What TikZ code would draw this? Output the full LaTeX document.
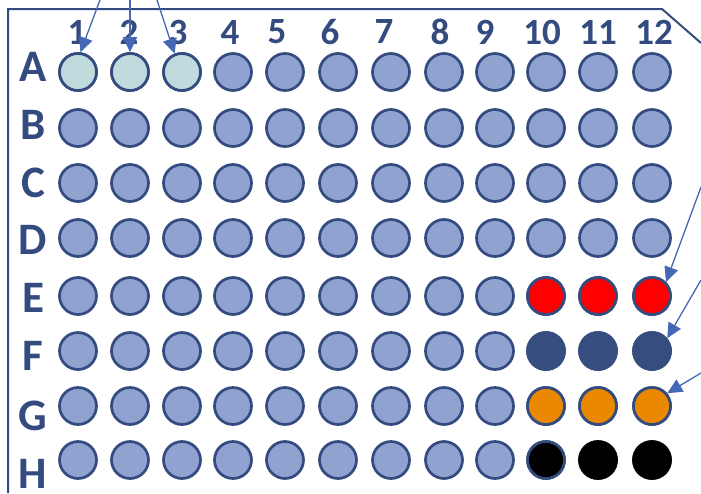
\documentclass[tikz,border=0pt]{standalone}
\usepackage{fontspec}
\setmainfont{Carlito}[BoldFont=Carlito Bold]
\usetikzlibrary{arrows.meta}
\definecolor{plateblue}{RGB}{52,75,128}
\definecolor{wellfill}{RGB}{143,162,208}
\definecolor{tealfill}{RGB}{190,218,220}
\definecolor{darkfill}{RGB}{55,77,128}
\definecolor{orangefill}{RGB}{234,137,0}
\definecolor{arrowblue}{RGB}{68,104,180}
\tikzset{
  well/.style={circle, draw=plateblue, line width=2.7pt, fill=wellfill, minimum size=37pt, inner sep=0pt},
  rowlab/.style={text=plateblue, font=\fontsize{45}{48}\selectfont\bfseries, inner sep=0pt},
  collab/.style={text=plateblue, font=\fontsize{37}{40}\selectfont\bfseries, inner sep=0pt},
  pointer/.style={draw=arrowblue, line width=1.3pt, -{Triangle[length=15pt,width=14pt]}},
  plate/.style={draw=plateblue, line width=2pt}
}
\begin{document}
\begin{tikzpicture}[x=1pt,y=-1pt]
\useasboundingbox (0,0) rectangle (701,493);
\draw[plate] (8,493) -- (8,9) -- (662,9) -- (701,43);
% column labels
\foreach \n/\x in {1/77,2/129,3/178,4/230,5/277,6/330,7/384,8/440,9/485,10/542,11/598,12/654}
  \node[collab] (col-\n) at (\x,32) {\n};
% row labels
\foreach \r/\y in {A/67,B/125,C/183,D/240,E/298,F/356,G/416,H/474}
  \node[rowlab] (row-\r) at (33,\y) {\r};
% wells
\foreach \r/\y in {A/72,B/128,C/183,D/238,E/296,F/351,G/406,H/460}
  \foreach \c/\x in {1/78,2/130,3/182,4/233,5/285,6/338,7/391,8/444,9/495,10/546,11/598,12/652}
    \node[well] (w-\r-\c) at (\x,\y) {};
% coloured wells
\foreach \c in {1,2,3} \node[well, fill=tealfill] at (w-A-\c) {};
\foreach \c in {10,11,12} {
  \node[well, fill=red] at (w-E-\c) {};
  \node[well, fill=darkfill, draw=darkfill] at (w-F-\c) {};
  \node[well, fill=orangefill] at (w-G-\c) {};
}
\node[well, fill=black] at (w-H-10) {};
\node[well, fill=black, draw=black] at (w-H-11) {};
\node[well, fill=black, draw=black] at (w-H-12) {};
% arrows
\coordinate (s1) at (100,0);
\coordinate (s2) at (130,0);
\coordinate (s3) at (157,0);
\coordinate (sE) at (701,187);
\coordinate (sF) at (701,280);
\coordinate (sG) at (701,373);
\draw[pointer] (s1) -- (w-A-1.83);
\draw[pointer] (s2) -- (w-A-2.north);
\draw[pointer] (s3) -- (w-A-3.112);
\draw[pointer] (sE) -- (w-E-12.45);
\draw[pointer] (sF) -- (w-F-12.40);
\draw[pointer] (sG) -- (w-G-12.40);
\end{tikzpicture}
\end{document}
